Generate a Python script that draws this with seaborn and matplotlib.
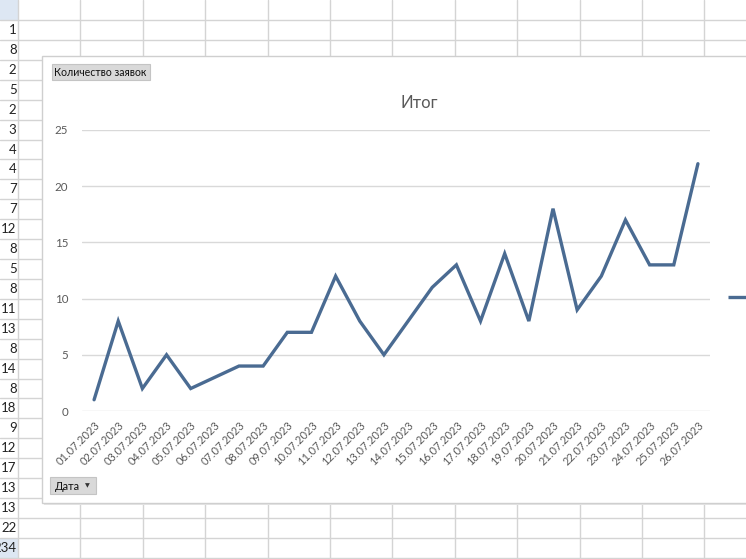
import matplotlib
matplotlib.use("Agg")
import matplotlib.pyplot as plt
import seaborn as sns
import pandas as pd
from matplotlib.patches import Rectangle

# ---- data ----
dates = ['01.07.2023', '02.07.2023', '03.07.2023', '04.07.2023', '05.07.2023',
         '06.07.2023', '07.07.2023', '08.07.2023', '09.07.2023', '10.07.2023',
         '11.07.2023', '12.07.2023', '13.07.2023', '14.07.2023', '15.07.2023',
         '16.07.2023', '17.07.2023', '18.07.2023', '19.07.2023', '20.07.2023',
         '21.07.2023', '22.07.2023', '23.07.2023', '24.07.2023', '25.07.2023',
         '26.07.2023']
counts = [1, 8, 2, 5, 2, 3, 4, 4, 7, 7, 12, 8, 5, 8, 11, 13, 8, 14, 8, 18,
          9, 12, 17, 13, 13, 22]
y_ticks = [0, 5, 10, 15, 20, 25]
title = 'Итог'
series_button = 'Количество заявок'
axis_button = 'Дата'

sns.set_theme(style="white")
plt.rcParams['font.family'] = ['Lato', 'Noto Sans', 'DejaVu Sans']

W, H = 746, 559
fig = plt.figure(figsize=(W / 100, H / 100), dpi=100)
fig.patch.set_facecolor('white')

# background "spreadsheet" layer in pixel coordinates
bg = fig.add_axes([0, 0, 1, 1])
bg.set_xlim(0, W)
bg.set_ylim(H, 0)
bg.axis('off')

grid_c = '#d4d4d4'
row_h = 19.92
y = 20.0
while y < H + 1:
    bg.plot([0, W], [y, y], color=grid_c, lw=1, zorder=1)
    y += row_h
x = 18.0
while x < W + 1:
    bg.plot([x, x], [0, H], color=grid_c, lw=1, zorder=1)
    x += 62.4
bg.add_patch(Rectangle((0, 0), 18, 20, facecolor='#dde7f3', edgecolor='none', zorder=0.5))
bg.add_patch(Rectangle((0, 20 + row_h * 26), 18, row_h, facecolor='#dde7f3',
                       edgecolor='none', zorder=0.5))
# column of values on the left (partially visible, the total is cut by the view)
left_vals = counts + [sum(counts)]
for i, v in enumerate(left_vals):
    t = bg.text(16.5, 30 + row_h * i, str(v), ha='right', va='center',
                fontsize=9.5, color='#222222', zorder=2)
    t.set_clip_on(True)

# chart area box
bg.add_patch(Rectangle((44, 58), 760, 447, facecolor='#e6e6e6', edgecolor='none', zorder=3))
bg.add_patch(Rectangle((42, 56), 760, 447, facecolor='white', edgecolor='#cfcfcf',
                       lw=1, zorder=4))

# field buttons
bg.add_patch(Rectangle((52, 64), 98, 16, facecolor='#d9d9d9', edgecolor='#c4c4c4',
                       lw=0.8, zorder=5))
bg.text(54.5, 72.5, series_button, ha='left', va='center', fontsize=7.6,
        color='#111111', zorder=6)
bg.add_patch(Rectangle((50, 477), 46, 17, facecolor='#d9d9d9', edgecolor='#c4c4c4',
                       lw=0.8, zorder=5))
bg.text(55, 486, axis_button, ha='left', va='center', fontsize=7.8,
        color='#111111', zorder=6)
bg.text(85, 486, '▼', ha='left', va='center', fontsize=4.5,
        color='#333333', zorder=6, family=['DejaVu Sans'])

line_c = '#4a6b92'
# legend entry (cut off at the right edge)
bg.plot([728, 760], [297, 297], color=line_c, lw=2.4, zorder=6, solid_capstyle='butt')

# title
fig.text(419 / W, 1 - 103 / H, title, ha='center', va='center', fontsize=12,
         color='#595959')

# main plot
left, right, top, bottom = 82, 710, 130, 411
ax = fig.add_axes([left / W, 1 - bottom / H, (right - left) / W, (bottom - top) / H])
ax.patch.set_alpha(0)
df = pd.DataFrame({'date': dates, 'count': counts})
sns.lineplot(data=df, x='date', y='count', ax=ax, color=line_c, lw=2.4,
             sort=False, solid_joinstyle='miter')
ax.set_xlim(-0.5, len(dates) - 0.5)
ax.set_ylim(0, 25)
ax.set_yticks(y_ticks)
ax.set_xlabel('')
ax.set_ylabel('')
for s in ax.spines.values():
    s.set_visible(False)
ax.grid(axis='y', color='#d9d9d9', lw=1)
ax.grid(axis='x', visible=False)
ax.set_axisbelow(True)
ax.tick_params(axis='y', length=0, pad=10, labelsize=8.3, labelcolor='#595959')
ax.tick_params(axis='x', length=0, pad=6, labelsize=7.9, labelcolor='#595959')
ax.set_xticks(range(len(dates)))
ax.set_xticklabels(dates, rotation=45, ha='right', rotation_mode='anchor')

fig.savefig('out.png', dpi=100)
